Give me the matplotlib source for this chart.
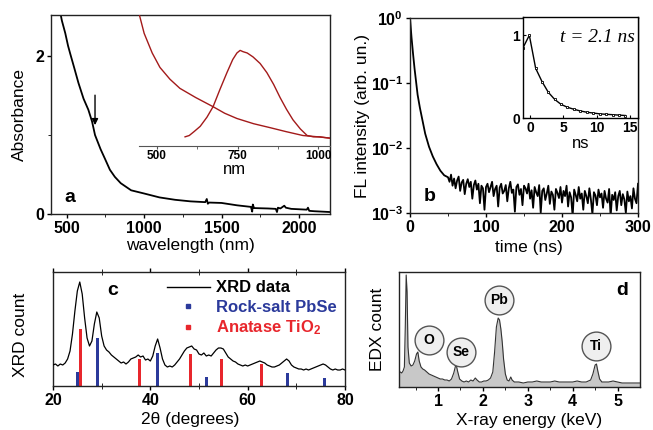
import numpy as np
import matplotlib
matplotlib.use("Agg")
import matplotlib.pyplot as plt
from matplotlib.lines import Line2D
from matplotlib.ticker import FixedLocator, FixedFormatter, NullFormatter

plt.rcParams["font.family"] = ["Liberation Sans", "DejaVu Sans"]
plt.rcParams["mathtext.fontset"] = "custom"
plt.rcParams["mathtext.rm"] = "Liberation Sans"
plt.rcParams["mathtext.bf"] = "Liberation Sans:bold"
plt.rcParams["mathtext.it"] = "Liberation Sans:italic"

# ---- panel a: absorbance (nm, A)
abs_nm = [455, 470, 492, 510, 524, 550, 577, 610, 641, 665, 684, 700, 720, 748, 780,
          812, 850, 917, 1000, 1100, 1200, 1300, 1395, 1405, 1412, 1420, 1500, 1600,
          1690, 1698, 1702, 1710, 1800, 1850, 1858, 1864, 1880, 1905, 1915, 1950, 2000,
          2050, 2058, 2066, 2100, 2150, 2200]
abs_val = [2.60, 2.45, 2.29, 2.13, 2.03, 1.85, 1.66, 1.46, 1.32, 1.17, 1.00, 0.92, 0.82,
           0.70, 0.56, 0.47, 0.39, 0.30, 0.26, 0.21, 0.18, 0.16, 0.15, 0.19, 0.13, 0.145,
           0.14, 0.11, 0.09, 0.03, 0.12, 0.075, 0.07, 0.065, 0.025, 0.08, 0.07, 0.105,
           0.08, 0.065, 0.06, 0.055, 0.08, 0.04, 0.035, 0.03, 0.025]

# inset a: absorbance and PL (nm, arb.)
ins_abs_nm = [440, 460, 485, 509, 540, 571, 620, 674, 710, 748, 800, 851, 900, 953, 1000, 1037]
ins_abs_val = [1.05, 0.86, 0.71, 0.60, 0.51, 0.44, 0.37, 0.30, 0.25, 0.21, 0.17, 0.14,
               0.11, 0.08, 0.07, 0.06]
pl_nm = [587, 600, 615, 634, 655, 674, 695, 717, 735, 748, 758, 767, 780, 798, 820,
         841, 862, 882, 902, 922, 945, 966, 985, 1006, 1020, 1037]
pl_val = [0.07, 0.08, 0.11, 0.15, 0.22, 0.30, 0.43, 0.56, 0.66, 0.71, 0.73, 0.72, 0.71,
          0.68, 0.63, 0.56, 0.47, 0.37, 0.28, 0.20, 0.13, 0.08, 0.07, 0.07, 0.065, 0.06]

# ---- panel b: FL decay, log10 intensity
decay_t = [0, 2, 4, 6, 8, 10, 13, 16, 20, 25, 30, 35, 40, 45]
decay_log = [0.0, -0.30, -0.55, -0.78, -0.98, -1.18, -1.38, -1.55, -1.78, -1.98, -2.13,
             -2.25, -2.35, -2.42]
tail_t = np.arange(50, 301, 2)
tail_log = [-2.45, -2.52, -2.41, -2.58, -2.47, -2.62, -2.50, -2.44, -2.66, -2.53, -2.49,
            -2.71, -2.55, -2.48, -2.60, -2.52, -2.78, -2.57, -2.50, -2.64, -2.55, -2.85,
            -2.58, -2.62, -2.95, -2.60,
            -2.55, -2.68, -2.60, -2.52, -2.74, -2.63, -2.58, -2.90, -2.61, -2.55, -2.70,
            -2.66, -2.57, -2.82, -2.62, -2.52, -2.69, -2.64, -2.98, -2.60, -2.56, -2.72,
            -2.63, -2.88, -2.58,
            -2.62, -2.70, -2.55, -2.78, -2.65, -2.92, -2.60, -2.68, -2.74, -2.57, -3.00,
            -2.66, -2.62, -2.80, -2.70, -2.58, -2.86, -2.67, -2.72, -2.95, -2.63, -2.69,
            -2.77, -2.60, -2.84,
            -2.66, -2.74, -2.58, -2.90, -2.68, -2.76, -3.05, -2.64, -2.72, -2.82, -2.60,
            -2.78, -2.70, -2.95, -2.66, -2.74, -2.85, -2.62, -2.79, -3.02, -2.68, -2.73,
            -2.88, -2.64, -2.76,
            -2.70, -2.92, -2.66, -2.78, -2.84, -2.63, -3.05, -2.72, -2.80, -2.68, -2.96,
            -2.74, -2.66, -2.88, -2.71, -2.79, -3.00, -2.67, -2.82, -2.74, -2.93, -2.62,
            -2.78, -2.85, -2.55]

# inset b: linear decay (ns, norm.)
ins_t = [-1.1, -0.1, 0.85, 1.8, 2.75, 3.7, 4.65, 5.6, 6.6, 7.55, 8.5, 9.5, 10.45, 11.4,
         12.4, 13.35, 14.3]
ins_v = [0.84, 1.0, 0.60, 0.44, 0.31, 0.225, 0.165, 0.13, 0.105, 0.085, 0.07, 0.06, 0.05,
         0.045, 0.04, 0.035, 0.03]

# ---- panel c: XRD
xrd_2theta = np.arange(20, 80.5, 0.5)
xrd_count = [21, 22, 20, 22, 21, 23, 27, 35, 52, 75, 95, 104, 92, 68, 48, 40, 45, 62, 74,
             68, 50, 40, 36, 34, 31, 29, 27, 25, 23, 24, 22, 24, 27, 28, 29, 31, 29, 30,
             26, 27, 25, 30, 40, 47, 38, 27, 21, 19, 20, 19, 21, 24, 27, 31, 35, 38, 39,
             40, 37, 36, 32, 31, 33, 30, 31, 30, 33, 36, 38, 38, 37, 33, 29, 27, 25, 24,
             22, 21, 20, 21, 20, 21, 22, 23, 24, 25, 24, 23, 21, 20, 19, 19, 20, 21, 23,
             25, 27, 25, 21, 19, 18, 17, 17, 16, 17, 16, 17, 18, 19, 20, 21, 22, 21, 19,
             17, 16, 17, 16, 16, 17, 16]
pbse_pos = [25.1, 29.2, 41.5, 51.5, 68.2, 75.8]
pbse_h = [14, 48, 33, 9, 13, 8]
tio2_pos = [25.7, 37.7, 48.2, 54.6, 62.8]
tio2_h = [57, 27, 32, 27, 22]

# ---- panel d: EDX
edx_kev = [0.13, 0.16, 0.19, 0.22, 0.25, 0.27, 0.29, 0.31, 0.33, 0.36, 0.40, 0.44, 0.48,
           0.52, 0.55, 0.58, 0.62, 0.66, 0.70, 0.75, 0.80, 0.85, 0.90, 0.95, 1.00, 1.05,
           1.10, 1.15, 1.20, 1.25, 1.30, 1.35, 1.40, 1.44, 1.48, 1.53, 1.58, 1.63, 1.68,
           1.73, 1.78, 1.83, 1.87, 1.92, 1.97, 2.02, 2.07, 2.12, 2.17, 2.22, 2.26, 2.30,
           2.34, 2.37, 2.40, 2.43, 2.46, 2.50, 2.54, 2.58, 2.62, 2.65, 2.70, 2.80, 2.90,
           3.00, 3.10, 3.20, 3.30, 3.40, 3.50, 3.60, 3.70, 3.80, 3.90, 4.00, 4.10, 4.20,
           4.30, 4.40, 4.45, 4.50, 4.53, 4.56, 4.60, 4.65, 4.70, 4.80, 4.90, 5.00, 5.10,
           5.20, 5.30, 5.40, 5.50]
edx_count = [14, 15, 14, 16, 20, 60, 112, 95, 40, 24, 21, 22, 26, 33, 35, 26, 20, 18, 17,
             15, 13, 12, 11, 10, 9, 8, 8, 7, 7, 6, 8, 14, 23, 15, 8, 6, 5, 6, 5, 7, 6, 9,
             7, 5, 5, 6, 6, 7, 9, 15, 35, 60, 69, 67, 58, 45, 28, 13, 7, 6, 10, 7, 5, 5, 4,
             5, 5, 6, 5, 5, 5, 6, 5, 5, 5, 5, 6, 5, 5, 7, 13, 22, 23, 16, 8, 5, 5, 5, 6, 5,
             4, 4, 4, 4, 4]
edx_labels = ["O", "Se", "Pb", "Ti"]
edx_lab_kev = [0.80, 1.51, 2.36, 4.51]
edx_lab_y = [47, 35, 87, 41]

W, H = 653, 430
fig = plt.figure(figsize=(W / 100, H / 100), dpi=100)


def box(l, t, r, b):
    return [l / W, 1 - b / H, (r - l) / W, (b - t) / H]


LB = 12.5


def style(ax):
    for s in ax.spines.values():
        s.set_linewidth(1.0)
        s.set_color("#222222")
    ax.tick_params(direction="out", length=3, width=1, pad=2)
    for t in ax.get_xticklabels() + ax.get_yticklabels():
        t.set_fontweight("bold")
        t.set_fontsize(11.5)


# ---------------- a
axa = fig.add_axes(box(51, 15, 330, 214))
axa.plot(abs_nm, abs_val, color="black", lw=1.3)
axa.set_xlim(400, 2200)
axa.set_ylim(0, 2.52)
axa.set_xticks([500, 1000, 1500, 2000])
axa.set_xticks([750, 1250, 1750], minor=True)
axa.set_yticks([0, 2])
axa.set_yticks([1], minor=True)
axa.tick_params(which="minor", direction="out", length=2)
style(axa)
axa.set_xlabel("wavelength (nm)", fontsize=LB)
axa.set_ylabel("Absorbance", fontsize=LB)
axa.xaxis.set_label_coords(0.5, -0.12)
axa.yaxis.set_label_coords(-0.085, 0.5)
axa.annotate("", xy=(684, 1.09), xytext=(684, 1.54),
             arrowprops=dict(arrowstyle="-|>", color="black", lw=1, mutation_scale=9))
axa.text(0.068, 0.085, "a", transform=axa.transAxes, fontsize=14, fontweight="bold",
         ha="center", va="center")

axai = fig.add_axes(box(139, 15, 330, 146))
axai.patch.set_alpha(0)
axai.plot(ins_abs_nm, ins_abs_val, color="#a31a1a", lw=1.0)
axai.plot(pl_nm, pl_val, color="#a31a1a", lw=1.0)
axai.set_xlim(444, 1037)
axai.set_ylim(0, 1)
for s in ["left", "right", "top"]:
    axai.spines[s].set_visible(False)
axai.spines["bottom"].set_color("#555555")
axai.set_yticks([])
axai.set_xticks([500, 750, 1000])
axai.set_xticks([625, 875], minor=True)
axai.tick_params(axis="x", which="both", direction="out", length=2, pad=1, colors="#555555")
for t in axai.get_xticklabels():
    t.set_fontsize(8.5)
    t.set_fontweight("bold")
    t.set_color("black")
axai.set_xlabel("nm", fontsize=12, labelpad=0)

# ---------------- b
axb = fig.add_axes(box(410, 18, 638, 213))
axb.plot(decay_t + list(tail_t), [10 ** v for v in decay_log + tail_log],
         color="black", lw=1.3)
axb.set_yscale("log")
axb.set_xlim(0, 300)
axb.set_ylim(1e-3, 1)
axb.set_xticks([0, 100, 200, 300])
axb.set_xticks([50, 150, 250], minor=True)
axb.yaxis.set_major_locator(FixedLocator([1e-3, 1e-2, 1e-1, 1]))
axb.yaxis.set_major_formatter(FixedFormatter([r"$\mathbf{10^{-3}}$", r"$\mathbf{10^{-2}}$",
                                              r"$\mathbf{10^{-1}}$", r"$\mathbf{10^{0}}$"]))
axb.yaxis.set_minor_locator(FixedLocator([]))
axb.yaxis.set_minor_formatter(NullFormatter())
axb.tick_params(which="minor", direction="out", length=2)
style(axb)
axb.set_xlabel("time (ns)", fontsize=LB)
axb.set_ylabel("FL intensity (arb. un.)", fontsize=LB)
axb.xaxis.set_label_coords(0.52, -0.14)
axb.yaxis.set_label_coords(-0.175, 0.5)
axb.text(0.088, 0.087, "b", transform=axb.transAxes, fontsize=14, fontweight="bold",
         ha="center", va="center")

axbi = fig.add_axes(box(523, 17, 638, 118))
axbi.plot(ins_t, ins_v, color="black", lw=1.0, marker="s", ms=1.8, mfc="white",
          mec="black", mew=0.6)
axbi.set_xlim(-1.05, 16.2)
axbi.set_ylim(0, 1.22)
axbi.set_xticks([0, 5, 10, 15])
axbi.set_yticks([0, 1])
axbi.tick_params(direction="in", length=2, pad=2)
for s in axbi.spines.values():
    s.set_linewidth(1.0)
for t in axbi.get_xticklabels() + axbi.get_yticklabels():
    t.set_fontsize(10)
    t.set_fontweight("bold")
axbi.set_xlabel("ns", fontsize=12, labelpad=1)
axbi.text(0.97, 0.8, "t = 2.1 ns", transform=axbi.transAxes, ha="right", va="center",
          fontsize=14, fontstyle="italic", family=["Liberation Serif", "DejaVu Serif"])

# ---------------- c
axc = fig.add_axes(box(53, 272, 345, 386))
axc.bar(pbse_pos, pbse_h, width=0.6, color="#2b3a9b", zorder=2)
axc.bar(tio2_pos, tio2_h, width=0.6, color="#e8262c", zorder=2)
axc.plot(xrd_2theta, xrd_count, color="black", lw=0.9, zorder=3)
axc.set_xlim(20, 80)
axc.set_ylim(0, 114)
axc.set_xticks([20, 40, 60, 80])
axc.set_xticks([30, 50, 70], minor=True)
axc.set_yticks([])
axc.tick_params(axis="x", which="both", top=True, direction="inout", length=5)
style(axc)
axc.set_xlabel("2θ (degrees)", fontsize=LB)
axc.set_ylabel("XRD count", fontsize=LB)
axc.xaxis.set_label_coords(0.47, -0.23)
axc.yaxis.set_label_coords(-0.085, 0.45)
axc.text(0.205, 0.84, "c", transform=axc.transAxes, fontsize=14, fontweight="bold",
         ha="center", va="center")
handles = [Line2D([], [], color="black", lw=1.0),
           Line2D([], [], color="#2b3a9b", marker="s", ls="none", ms=2.5),
           Line2D([], [], color="#e8262c", marker="s", ls="none", ms=2.5)]
leg = axc.legend(handles, ["XRD data", "Rock-salt PbSe", r"Anatase TiO$_\mathbf{2}$"],
                 loc="upper right", frameon=False, fontsize=12, handlelength=2.6,
                 handletextpad=0.35, labelspacing=0.25, borderaxespad=0.1,
                 bbox_to_anchor=(1.0, 1.0))
for txt, c in zip(leg.get_texts(), ["black", "#2b3a9b", "#e8262c"]):
    txt.set_color(c)
    txt.set_fontweight("bold")

# ---------------- d
axd = fig.add_axes(box(399, 272, 640, 387))
axd.fill_between(edx_kev, edx_count, color="#c8c8c8", lw=0)
axd.plot(edx_kev, edx_count, color="#333333", lw=0.8)
axd.set_xlim(0.13, 5.5)
axd.set_ylim(0, 115)
axd.set_xticks([1, 2, 3, 4, 5])
axd.set_xticks([0.5, 1.5, 2.5, 3.5, 4.5], minor=True)
axd.set_yticks([])
axd.tick_params(which="minor", direction="out", length=2)
style(axd)
axd.set_xlabel("X-ray energy (keV)", fontsize=LB)
axd.set_ylabel("EDX count", fontsize=LB)
axd.xaxis.set_label_coords(0.54, -0.226)
axd.yaxis.set_label_coords(-0.058, 0.5)
axd.scatter(edx_lab_kev, edx_lab_y, s=430, facecolor="#efefef", edgecolor="#555555",
            linewidth=1.0, zorder=4)
for lab, x, y in zip(edx_labels, edx_lab_kev, edx_lab_y):
    axd.text(x, y, lab, ha="center", va="center", fontsize=10, fontweight="bold", zorder=5)
axd.text(0.925, 0.84, "d", transform=axd.transAxes, fontsize=14, fontweight="bold",
         ha="center", va="center")

fig.savefig("out.png", dpi=100)
